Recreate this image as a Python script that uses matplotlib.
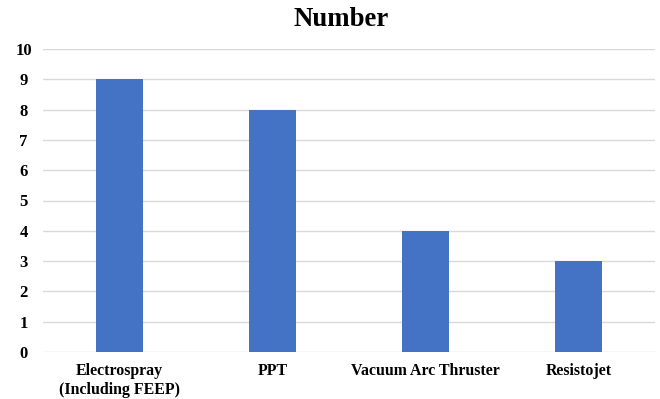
import matplotlib
matplotlib.use("Agg")
import matplotlib.pyplot as plt

categories = ["Electrospray\n(Including FEEP)", "PPT", "Vacuum Arc Thruster", "Resistojet"]
values = [9, 8, 4, 3]
yticks = list(range(0, 11))

plt.rcParams['font.family'] = ['Liberation Serif', 'DejaVu Serif']

fig = plt.figure(figsize=(6.6, 3.99), dpi=100)
ax = fig.add_axes([43/660, 1 - 352/399, 612/660, 303/399])
x = range(len(categories))
ax.bar(x, values, width=0.31, color="#4472C4", zorder=3)
ax.set_xlim(-0.5, 3.5)
ax.set_ylim(0, 10)
ax.set_yticks(yticks)
ax.set_xticks(list(x))
ax.set_xticklabels(categories, fontsize=11.4, fontweight='bold', linespacing=1.25)
for lab in ax.get_yticklabels():
    lab.set_fontsize(12)
    lab.set_fontweight('bold')
    lab.set_horizontalalignment('center')
ax.grid(axis='y', color='#d9d9d9', linewidth=1, zorder=0)
for s in ax.spines.values():
    s.set_visible(False)
ax.tick_params(axis='both', length=0)
ax.tick_params(axis='y', pad=14)
ax.tick_params(axis='x', pad=8)
fig.text(341.5/660, 1 - 19.5/399, "Number", ha='center', va='center', fontsize=19.3, fontweight='bold')
fig.savefig("out.png", dpi=100)
